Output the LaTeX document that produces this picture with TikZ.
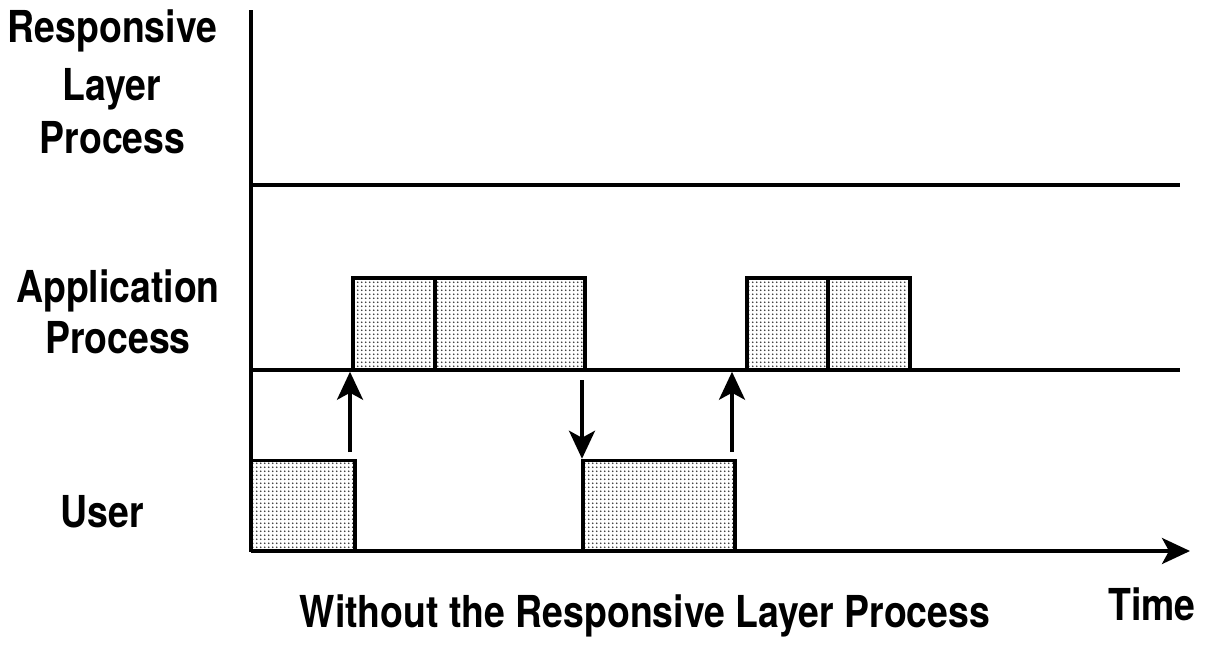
\documentclass[tikz,border=0pt]{standalone}
\usepackage{fontspec}
\setmainfont{TeX Gyre Heros}[FakeStretch=0.85]
\usetikzlibrary{arrows.meta,patterns.meta}
\tikzdeclarepattern{
  name=stipple, type=uncolored,
  bounding box={(0pt,0pt) and (4.2pt,4.2pt)},
  tile size={(4.2pt,4.2pt)},
  code={\fill (2.1pt,2.1pt) circle (1.1pt);}
}
\begin{document}
\begin{tikzpicture}[x=1pt,y=-1pt,
  ln/.style={line width=3.5pt},
  activity/.style={draw,line width=3.5pt,pattern=stipple,pattern color=black!80,inner sep=0pt,minimum height=90pt},
  arr/.style={line width=3.5pt,-{Stealth[length=28pt,width=26pt,inset=7pt]}},
  lab/.style={font=\fontsize{44}{52}\selectfont\bfseries,align=center,inner sep=0pt,anchor=base},
]
\useasboundingbox (0,0) rectangle (1208,645);
% axes and lines
\coordinate (o) at (251,551);
\coordinate (top) at (251,10);
\coordinate (tend) at (1190,551);
\draw[ln] (top) -- (o);
\draw[arr] (o) -- (tend);
\coordinate (r0) at (251,185); \coordinate (r1) at (1180,185);
\draw[ln] (r0) -- (r1);
\coordinate (p0) at (251,370); \coordinate (p1) at (1180,370);
\draw[ln] (p0) -- (p1);
% application boxes
\node[activity,minimum width=82pt,minimum height=92pt] (a1) at (394,324) {};
\node[activity,minimum width=150pt,minimum height=92pt] (a2) at (510,324) {};
\node[activity,minimum width=81pt,minimum height=92pt] (a3) at (787.5,324) {};
\node[activity,minimum width=82pt,minimum height=92pt] (a4) at (869,324) {};
% user boxes
\node[activity,minimum width=104pt] (u1) at (303,505.5) {};
\node[activity,minimum width=152pt] (u2) at (659,505.5) {};
% arrows
\coordinate (s1) at (350,452);
\draw[arr] (s1) -- (s1 |- a1.south);
\coordinate (s2) at (582,380);
\draw[arr] (s2) -- (s2 |- u2.north);
\coordinate (s3) at (732,452);
\draw[arr] (s3) -- (s3 |- a3.south);
% labels
\node[lab] (l1) at (112.5,42) {Responsive};
\node[lab] (l2) at (112,100) {Layer};
\node[lab] (l3) at (112.5,153) {Process};
\node[lab] (l4) at (118,302) {Application};
\node[lab] (l5) at (118,353) {Process};
\node[lab] (l6) at (102,527) {User};
\node[lab] (tm) at (1152,620) {Time};
\node[lab] (tt) at (645,627) {Without the Responsive Layer Process};
\end{tikzpicture}
\end{document}
